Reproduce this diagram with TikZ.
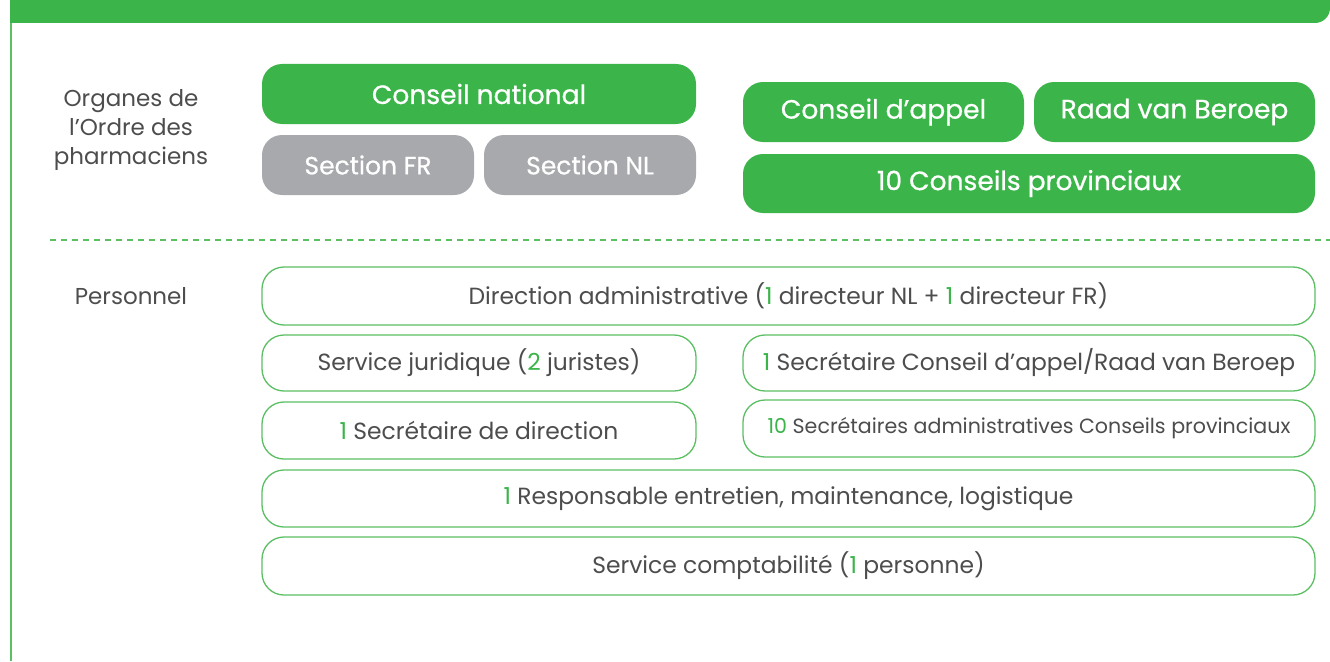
\documentclass[tikz,border=0pt]{standalone}
\usepackage{fontspec}
\setmainfont{Poppins}
\newfontfamily\medfont{Poppins}[FakeBold=0.7]
\definecolor{ordgreen}{HTML}{3BB54A}
\definecolor{ordline}{HTML}{5CBF63}
\definecolor{ordgray}{HTML}{A7A9AC}
\definecolor{ordtext}{HTML}{4D4D4D}
\newcommand{\gn}[1]{\textcolor{ordgreen}{#1}}
\begin{document}
\begin{tikzpicture}[x=1pt,y=-1pt,
  solidbox/.style={fill=ordgreen, draw=none, rounded corners=20pt, inner sep=0pt,
    text=white, font=\medfont\fontsize{26.5}{30}\selectfont},
  graybox/.style={solidbox, fill=ordgray, font=\medfont\fontsize{25}{28}\selectfont},
  outlinebox/.style={draw=ordline, line width=1.3pt, fill=white, rounded corners=22pt,
    inner sep=0pt, text=ordtext, font=\fontsize{23.4}{27}\selectfont},
  sidelabel/.style={text=ordtext, align=center, font=\fontsize{23}{29}\selectfont}]
\useasboundingbox (0,0) rectangle (1330,661);

% header band and left frame rule
\fill[ordgreen] (10,0) -- (1330,0) [rounded corners=15pt] -- (1330,23) [sharp corners] -- (10,23) -- cycle;
\draw[ordline, line width=1.5pt] (11,23) -- (11,661);

% governing bodies
\node[sidelabel] (org) at (131,130) {Organes de\\l’Ordre des\\pharmaciens};
\node[solidbox, minimum width=434pt, minimum height=60pt] (cn) at (479,94) {Conseil national};
\node[graybox, minimum width=212pt, minimum height=60pt] (sfr) at (368,165) {Section FR};
\node[graybox, minimum width=212pt, minimum height=60pt] (snl) at (590,165) {Section NL};
\node[solidbox, minimum width=281pt, minimum height=60pt] (ca) at (883.5,112) {Conseil d’appel};
\node[solidbox, minimum width=281pt, minimum height=60pt] (rvb) at (1174.5,112) {Raad van Beroep};
\node[solidbox, minimum width=572pt, minimum height=59pt] (cp) at (1029,183.5) {10 Conseils provinciaux};

% separator
\coordinate (sepl) at (50,240);
\coordinate (sepr) at (1330,240);
\draw[ordline, line width=1.5pt, dash pattern=on 6pt off 5pt] (sepl) -- (sepr);

% staff
\node[sidelabel] (pers) at (131,296) {Personnel};
\node[outlinebox, minimum width=1053pt, minimum height=58pt] (dir) at (788.5,296)
  {Direction administrative (\gn{1} directeur NL + \gn{1} directeur FR)};
\node[outlinebox, minimum width=434pt, minimum height=56pt] (jur) at (479,363)
  {Service juridique (\gn{2} juristes)};
\node[outlinebox, minimum width=572pt, minimum height=56pt] (sca) at (1029,363)
  {\gn{1} Secrétaire Conseil d’appel/Raad van Beroep};
\node[outlinebox, minimum width=434pt, minimum height=57pt] (sdd) at (479,430.5)
  {\gn{1} Secrétaire de direction};
\node[outlinebox, minimum width=572pt, minimum height=57pt, font=\fontsize{20.6}{24}\selectfont] (scp) at (1029,428.5)
  {\gn{10} Secrétaires administratives Conseils provinciaux};
\node[outlinebox, minimum width=1053pt, minimum height=57pt] (resp) at (788.5,498.5)
  {\gn{1} Responsable entretien, maintenance, logistique};
\node[outlinebox, minimum width=1053pt, minimum height=58pt] (compta) at (788.5,566)
  {Service comptabilité (\gn{1} personne)};
\end{tikzpicture}
\end{document}
